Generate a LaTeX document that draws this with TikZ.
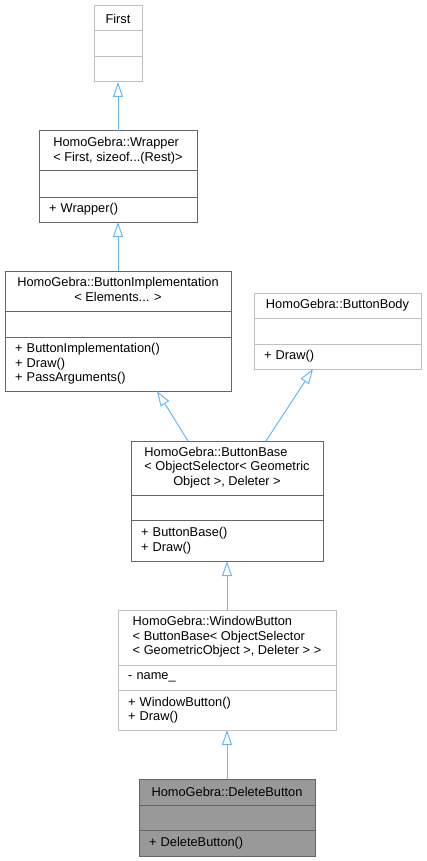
\documentclass[tikz,border=0pt]{standalone}
\usepackage{fontspec}
\setmainfont{Liberation Sans}
\usetikzlibrary{positioning,calc,arrows.meta}
\definecolor{edgeblue}{HTML}{63B8FF}
\definecolor{lightframe}{HTML}{BFBFBF}
\definecolor{darkframe}{HTML}{666666}
\definecolor{focusfill}{HTML}{999999}
\newcommand{\titlelines}[2]{\begin{tabular}{@{}l@{}}#1\\\multicolumn{1}{@{}c@{}}{#2}\end{tabular}}
\begin{document}
\begin{tikzpicture}[
  x=1pt, y=-1pt,
  font=\fontsize{12.8}{14.5}\selectfont,
  part/.style={draw, line width=1pt, outer sep=0pt, anchor=north, inner ysep=0pt},
  head/.style={part, inner xsep=0pt, align=center},
  body/.style={part, inner xsep=10pt, align=left},
  light/.style={draw=lightframe, fill=white},
  dark/.style={draw=darkframe, fill=white},
  focus/.style={draw=darkframe, fill=focusfill},
  inherit/.style={draw=edgeblue, line width=1pt, -{Triangle[open, length=15pt, width=10pt]}}
]
  \useasboundingbox (0,0) rectangle (427,861);

  % First
  \node[head, light, minimum width=48pt, minimum height=25pt] (first-t) at (118,6) {First};
  \node[body, light, text width=28pt, minimum height=26pt, below=0pt of first-t] (first-a) {};
  \node[body, light, text width=28pt, minimum height=25pt, below=0pt of first-a] (first-m) {};

  % Wrapper
  \node[head, dark, minimum width=158pt, minimum height=40pt] (wrap-t) at (118,131)
    {\titlelines{HomoGebra::Wrapper}{< First, sizeof...(Rest)>}};
  \node[body, dark, text width=138pt, minimum height=26pt, below=0pt of wrap-t] (wrap-a) {};
  \node[body, dark, text width=138pt, minimum height=25pt, below=0pt of wrap-a] (wrap-m) {+ Wrapper()};

  % ButtonImplementation
  \node[head, dark, minimum width=226pt, minimum height=40pt] (bimpl-t) at (118,271)
    {\titlelines{HomoGebra::ButtonImplementation}{< Elements... >}};
  \node[body, dark, text width=206pt, minimum height=26pt, below=0pt of bimpl-t] (bimpl-a) {};
  \node[body, dark, text width=206pt, minimum height=54pt, below=0pt of bimpl-a] (bimpl-m)
    {+ ButtonImplementation()\\+ Draw()\\+ PassArguments()};

  % ButtonBody
  \node[head, light, minimum width=167pt, minimum height=25pt] (bbody-t) at (337.5,293) {HomoGebra::ButtonBody};
  \node[body, light, text width=147pt, minimum height=26pt, below=0pt of bbody-t] (bbody-a) {};
  \node[body, light, text width=147pt, minimum height=25pt, below=0pt of bbody-a] (bbody-m) {+ Draw()};

  % ButtonBase
  \node[head, dark, minimum width=192pt, minimum height=54pt] (bbase-t) at (227,441)
    {\titlelines{HomoGebra::ButtonBase\\< ObjectSelector< Geometric}{Object >, Deleter >}};
  \node[body, dark, text width=172pt, minimum height=25pt, below=0pt of bbase-t] (bbase-a) {};
  \node[body, dark, text width=172pt, minimum height=41pt, below=0pt of bbase-a] (bbase-m)
    {+ ButtonBase()\\+ Draw()};

  % WindowButton
  \node[head, light, minimum width=218pt, minimum height=55pt] (wbtn-t) at (227,610)
    {\titlelines{HomoGebra::WindowButton\\< ButtonBase< ObjectSelector}{< GeometricObject >, Deleter > >}};
  \node[body, light, text width=198pt, minimum height=25pt, below=0pt of wbtn-t] (wbtn-a) {- name\_};
  \node[body, light, text width=198pt, minimum height=40pt, below=0pt of wbtn-a] (wbtn-m)
    {+ WindowButton()\\+ Draw()};

  % DeleteButton
  \node[head, focus, minimum width=176pt, minimum height=26pt] (delbtn-t) at (227,779) {HomoGebra::DeleteButton};
  \node[body, focus, text width=156pt, minimum height=25pt, below=0pt of delbtn-t] (delbtn-a) {};
  \node[body, focus, text width=156pt, minimum height=26pt, below=0pt of delbtn-a] (delbtn-m) {+ DeleteButton()};

  % inheritance
  \draw[inherit] (wrap-t.north) -- (first-m.south);
  \draw[inherit] (bimpl-t.north) -- (wrap-m.south);
  \draw[inherit] ($(bbase-t.north west)+(57,0)$) -- ($(bimpl-m.south west)+(152,0)$);
  \draw[inherit] ($(bbase-t.north west)+(135,0)$) -- ($(bbody-m.south west)+(59,0)$);
  \draw[inherit] (wbtn-t.north) -- (bbase-m.south);
  \draw[inherit] (delbtn-t.north) -- (wbtn-m.south);
\end{tikzpicture}
\end{document}
